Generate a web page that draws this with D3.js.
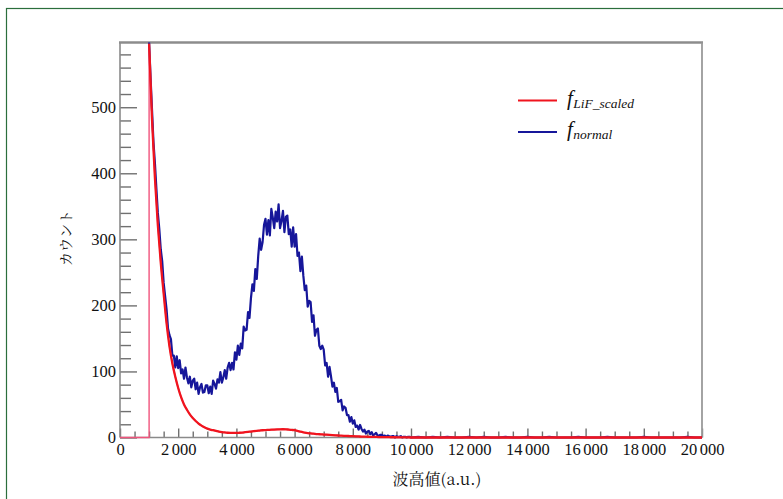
<!DOCTYPE html>
<html>
<head>
<meta charset="utf-8">
<script src="https://cdn.jsdelivr.net/npm/d3@7"></script>
<style>
  body { margin: 0; background: #fff; }
  svg { display: block; }
</style>
</head>
<body>
<svg id="chart" width="783" height="499"></svg>
<script>
// Axis ticks
const xMajorTicks = [0, 2000, 4000, 6000, 8000, 10000, 12000, 14000, 16000, 18000, 20000];
const yMajorTicks = [0, 100, 200, 300, 400, 500];

// Pulse-height histogram without LiF (f_normal), bins of 50 from 1000 to 10000
const normalStart = 1000;
const normalStep = 50;
const normalCounts = [
  598, 545, 496, 447, 415, 377, 340, 316, 285, 267,
  234, 214, 194, 165, 155, 149, 124, 124, 106, 123,
  105, 117, 97, 103, 89, 106, 91, 82, 92, 76,
  86, 89, 73, 83, 66, 76, 81, 68, 69, 79,
  79, 67, 77, 66, 86, 81, 74, 88, 83, 99,
  83, 91, 102, 89, 106, 113, 102, 113, 103, 129,
  118, 139, 125, 142, 135, 168, 162, 163, 190, 181,
  211, 232, 222, 255, 240, 275, 301, 284, 296, 322,
  331, 307, 329, 306, 346, 333, 317, 342, 327, 353,
  317, 328, 343, 311, 334, 336, 308, 315, 289, 318,
  289, 308, 275, 280, 252, 274, 245, 223, 230, 198,
  207, 205, 175, 185, 154, 163, 165, 139, 134, 139,
  133, 109, 113, 92, 107, 93, 77, 83, 69, 75,
  54, 55, 57, 41, 47, 45, 34, 34, 24, 31,
  21, 26, 16, 18, 12, 19, 13, 9, 12, 6,
  9, 10, 5, 8, 3, 5, 7, 3, 3, 4,
  4, 2, 3, 1, 3, 2, 1, 2, 2, 0,
  2, 1, 1, 2, 0, 1, 1, 0, 1, 1,
  0
];
// Tail of f_normal, bins of 250 from 10250 to 20000
const normalTailStart = 10250;
const normalTailStep = 250;
const normalTail = [
  1, 0, 1, 0, 1, 0, 0, 1, 0, 1,
  0, 0, 1, 0, 0, 1, 0, 0, 1, 0,
  0, 0, 1, 0, 0, 0, 1, 0, 0, 0,
  0, 1, 0, 0, 0, 0, 0, 1, 0, 0
];

// Scaled LiF spectrum (f_LiF_scaled), bins of 100 from 1000 to 10000
const lifStart = 1000;
const lifStep = 100;
const lifCounts = [
  596, 482, 393, 322, 265, 218, 173, 138, 112, 92,
  75, 61, 50, 42, 35, 29.5, 25, 21, 18, 15.5,
  13.5, 12, 11, 10, 9, 8.2, 7.6, 7.2, 7, 7,
  7, 7.2, 7.5, 8, 8.5, 9, 9.5, 10, 10.5, 11,
  11.2, 11.5, 11.8, 12, 12.2, 12.4, 12.5, 12.4, 12, 11.5,
  11, 10, 8.8, 7.8, 7, 6.4, 6, 5.5, 5.1, 4.8,
  4.5, 4.2, 3.9, 3.6, 3.3, 3, 2.8, 2.6, 2.4, 2.2,
  2, 1.8, 1.6, 1.4, 1.3, 1.1, 1, 0.9, 0.8, 0.7,
  0.6, 0.5, 0.5, 0.4, 0.4, 0.3, 0.3, 0.2, 0.2, 0.1,
  0
];

const legendItems = [
  { base: "f", sub: "LiF_scaled", color: "#f0141e" },
  { base: "f", sub: "normal", color: "#16169a" }
];

const xTitle = "波高値(a.u.)";
const yTitle = "カウント";

// ---------------------------------------------------------------
const svg = d3.select("#chart");
const serif = "'Liberation Serif', 'Noto Serif CJK JP', serif";
const cjk = "'Noto Serif CJK JP', 'Liberation Serif', serif";

// Outer frame
svg.append("rect")
  .attr("x", 6.5).attr("y", 8.5)
  .attr("width", 800).attr("height", 520)
  .attr("fill", "none")
  .attr("stroke", "#2b6e3c")
  .attr("stroke-width", 1.2);

const x = d3.scaleLinear().domain([0, 20000]).range([120, 702]);
const y = d3.scaleLinear().domain([0, 598]).range([437.5, 42.5]);

const normalPoints = normalCounts.map((c, i) => [normalStart + i * normalStep, c])
  .concat(normalTail.map((c, i) => [normalTailStart + i * normalTailStep, c]));
const lifPoints = lifCounts.map((c, i) => [lifStart + i * lifStep, c]);

const tickColor = "#707070";

// Y axis ticks (pointing inward)
const yMinor = d3.range(0, 598, 20).filter(v => v % 100 !== 0);
const yMinorAxis = d3.axisLeft(y).tickValues(yMinor).tickSize(-11).tickFormat("").tickSizeOuter(0);
const yMajorAxis = d3.axisLeft(y).tickValues(yMajorTicks).tickSize(-17).tickPadding(4).tickSizeOuter(0);

const gyMinor = svg.append("g").attr("transform", "translate(120,0)").call(yMinorAxis);
const gyMajor = svg.append("g").attr("transform", "translate(120,0)").call(yMajorAxis);

// X axis ticks (pointing inward)
const xMinor = d3.range(500, 20000, 500).filter(v => v % 2000 !== 0);
const xMinorAxis = d3.axisBottom(x).tickValues(xMinor).tickSize(-6).tickFormat("").tickSizeOuter(0);
const xMajorAxis = d3.axisBottom(x).tickValues(xMajorTicks).tickSize(-9).tickPadding(6).tickSizeOuter(0);

const gxMinor = svg.append("g").attr("transform", "translate(0,437.5)").call(xMinorAxis);
const gxMajor = svg.append("g").attr("transform", "translate(0,437.5)").call(xMajorAxis);

[gyMinor, gyMajor, gxMinor, gxMajor].forEach(g => {
  g.attr("font-family", null);
  g.select(".domain").remove();
  g.selectAll(".tick line").attr("stroke", tickColor).attr("stroke-width", 1.4);
  g.selectAll("text")
    .style("font-family", serif)
    .style("font-size", "16.5px")
    .attr("fill", "#111");
});

// Thousands separated by a small gap, e.g. "12 000"
gxMajor.selectAll(".tick text").each(function (d) {
  const t = d3.select(this);
  t.text(null);
  if (d >= 1000) {
    t.append("tspan").text(String(Math.floor(d / 1000)));
    t.append("tspan").attr("dx", 2.5).text("000");
  } else {
    t.append("tspan").text(String(d));
  }
});

// Plot frame
svg.append("line").attr("x1", 120).attr("x2", 120).attr("y1", 42.5).attr("y2", 437.5)
  .attr("stroke", "#8a8a8a").attr("stroke-width", 1.6);
svg.append("line").attr("x1", 119).attr("x2", 703).attr("y1", 42.5).attr("y2", 42.5)
  .attr("stroke", "#8c8c8c").attr("stroke-width", 2.6);
svg.append("line").attr("x1", 702).attr("x2", 702).attr("y1", 42.5).attr("y2", 437.5)
  .attr("stroke", "#9a9a9a").attr("stroke-width", 1.8);
svg.append("line").attr("x1", 120).attr("x2", 702).attr("y1", 437.5).attr("y2", 437.5)
  .attr("stroke", "#8a8a8a").attr("stroke-width", 1.4);

// Clip to plot area
svg.append("clipPath").attr("id", "plot-clip")
  .append("rect").attr("x", 120).attr("y", 41).attr("width", 582).attr("height", 398);

const plot = svg.append("g").attr("clip-path", "url(#plot-clip)");

// f_normal
plot.append("path")
  .datum(normalPoints)
  .attr("fill", "none")
  .attr("stroke", legendItems[1].color)
  .attr("stroke-width", 2.2)
  .attr("stroke-linejoin", "round")
  .attr("d", d3.line().x(d => x(d[0])).y(d => y(d[1])));

// f_LiF_scaled: empty range and rising edge as a thin line
const lifEdge = [[0, 0], [lifStart, 0]].concat(lifPoints).concat([[20000, 0]]);
plot.append("path")
  .datum(lifEdge)
  .attr("fill", "none")
  .attr("stroke", "#f0547c")
  .attr("stroke-width", 1.4)
  .attr("d", d3.line().x(d => x(d[0])).y(d => y(d[1])));

// f_LiF_scaled: spectrum body
plot.append("path")
  .datum(lifPoints.concat([[20000, 0]]))
  .attr("fill", "none")
  .attr("stroke", legendItems[0].color)
  .attr("stroke-width", 2.3)
  .attr("d", d3.line().curve(d3.curveMonotoneX).x(d => x(d[0])).y(d => y(d[1])));

// Legend
const legend = svg.append("g");
legendItems.forEach((item, i) => {
  const ly = 100.5 + i * 31.5;
  legend.append("line")
    .attr("x1", 518).attr("x2", 557)
    .attr("y1", ly).attr("y2", ly)
    .attr("stroke", item.color).attr("stroke-width", 2.2);
  const t = legend.append("text")
    .attr("x", 567).attr("y", ly + 4)
    .style("font-family", serif)
    .style("font-style", "italic")
    .attr("fill", "#111");
  t.append("tspan").style("font-size", "21px").text(item.base);
  t.append("tspan").style("font-size", "13.5px").attr("dx", 0.5).attr("dy", 3).text(item.sub);
});

// Axis titles
svg.append("text")
  .attr("x", 437).attr("y", 485)
  .attr("text-anchor", "middle")
  .style("font-family", cjk)
  .style("font-size", "16px")
  .attr("fill", "#111")
  .text(xTitle);

svg.append("text")
  .attr("transform", "translate(71,238) rotate(-90)")
  .attr("text-anchor", "middle")
  .style("font-family", cjk)
  .style("font-size", "14px")
  .attr("fill", "#111")
  .text(yTitle);
</script>
</body>
</html>
